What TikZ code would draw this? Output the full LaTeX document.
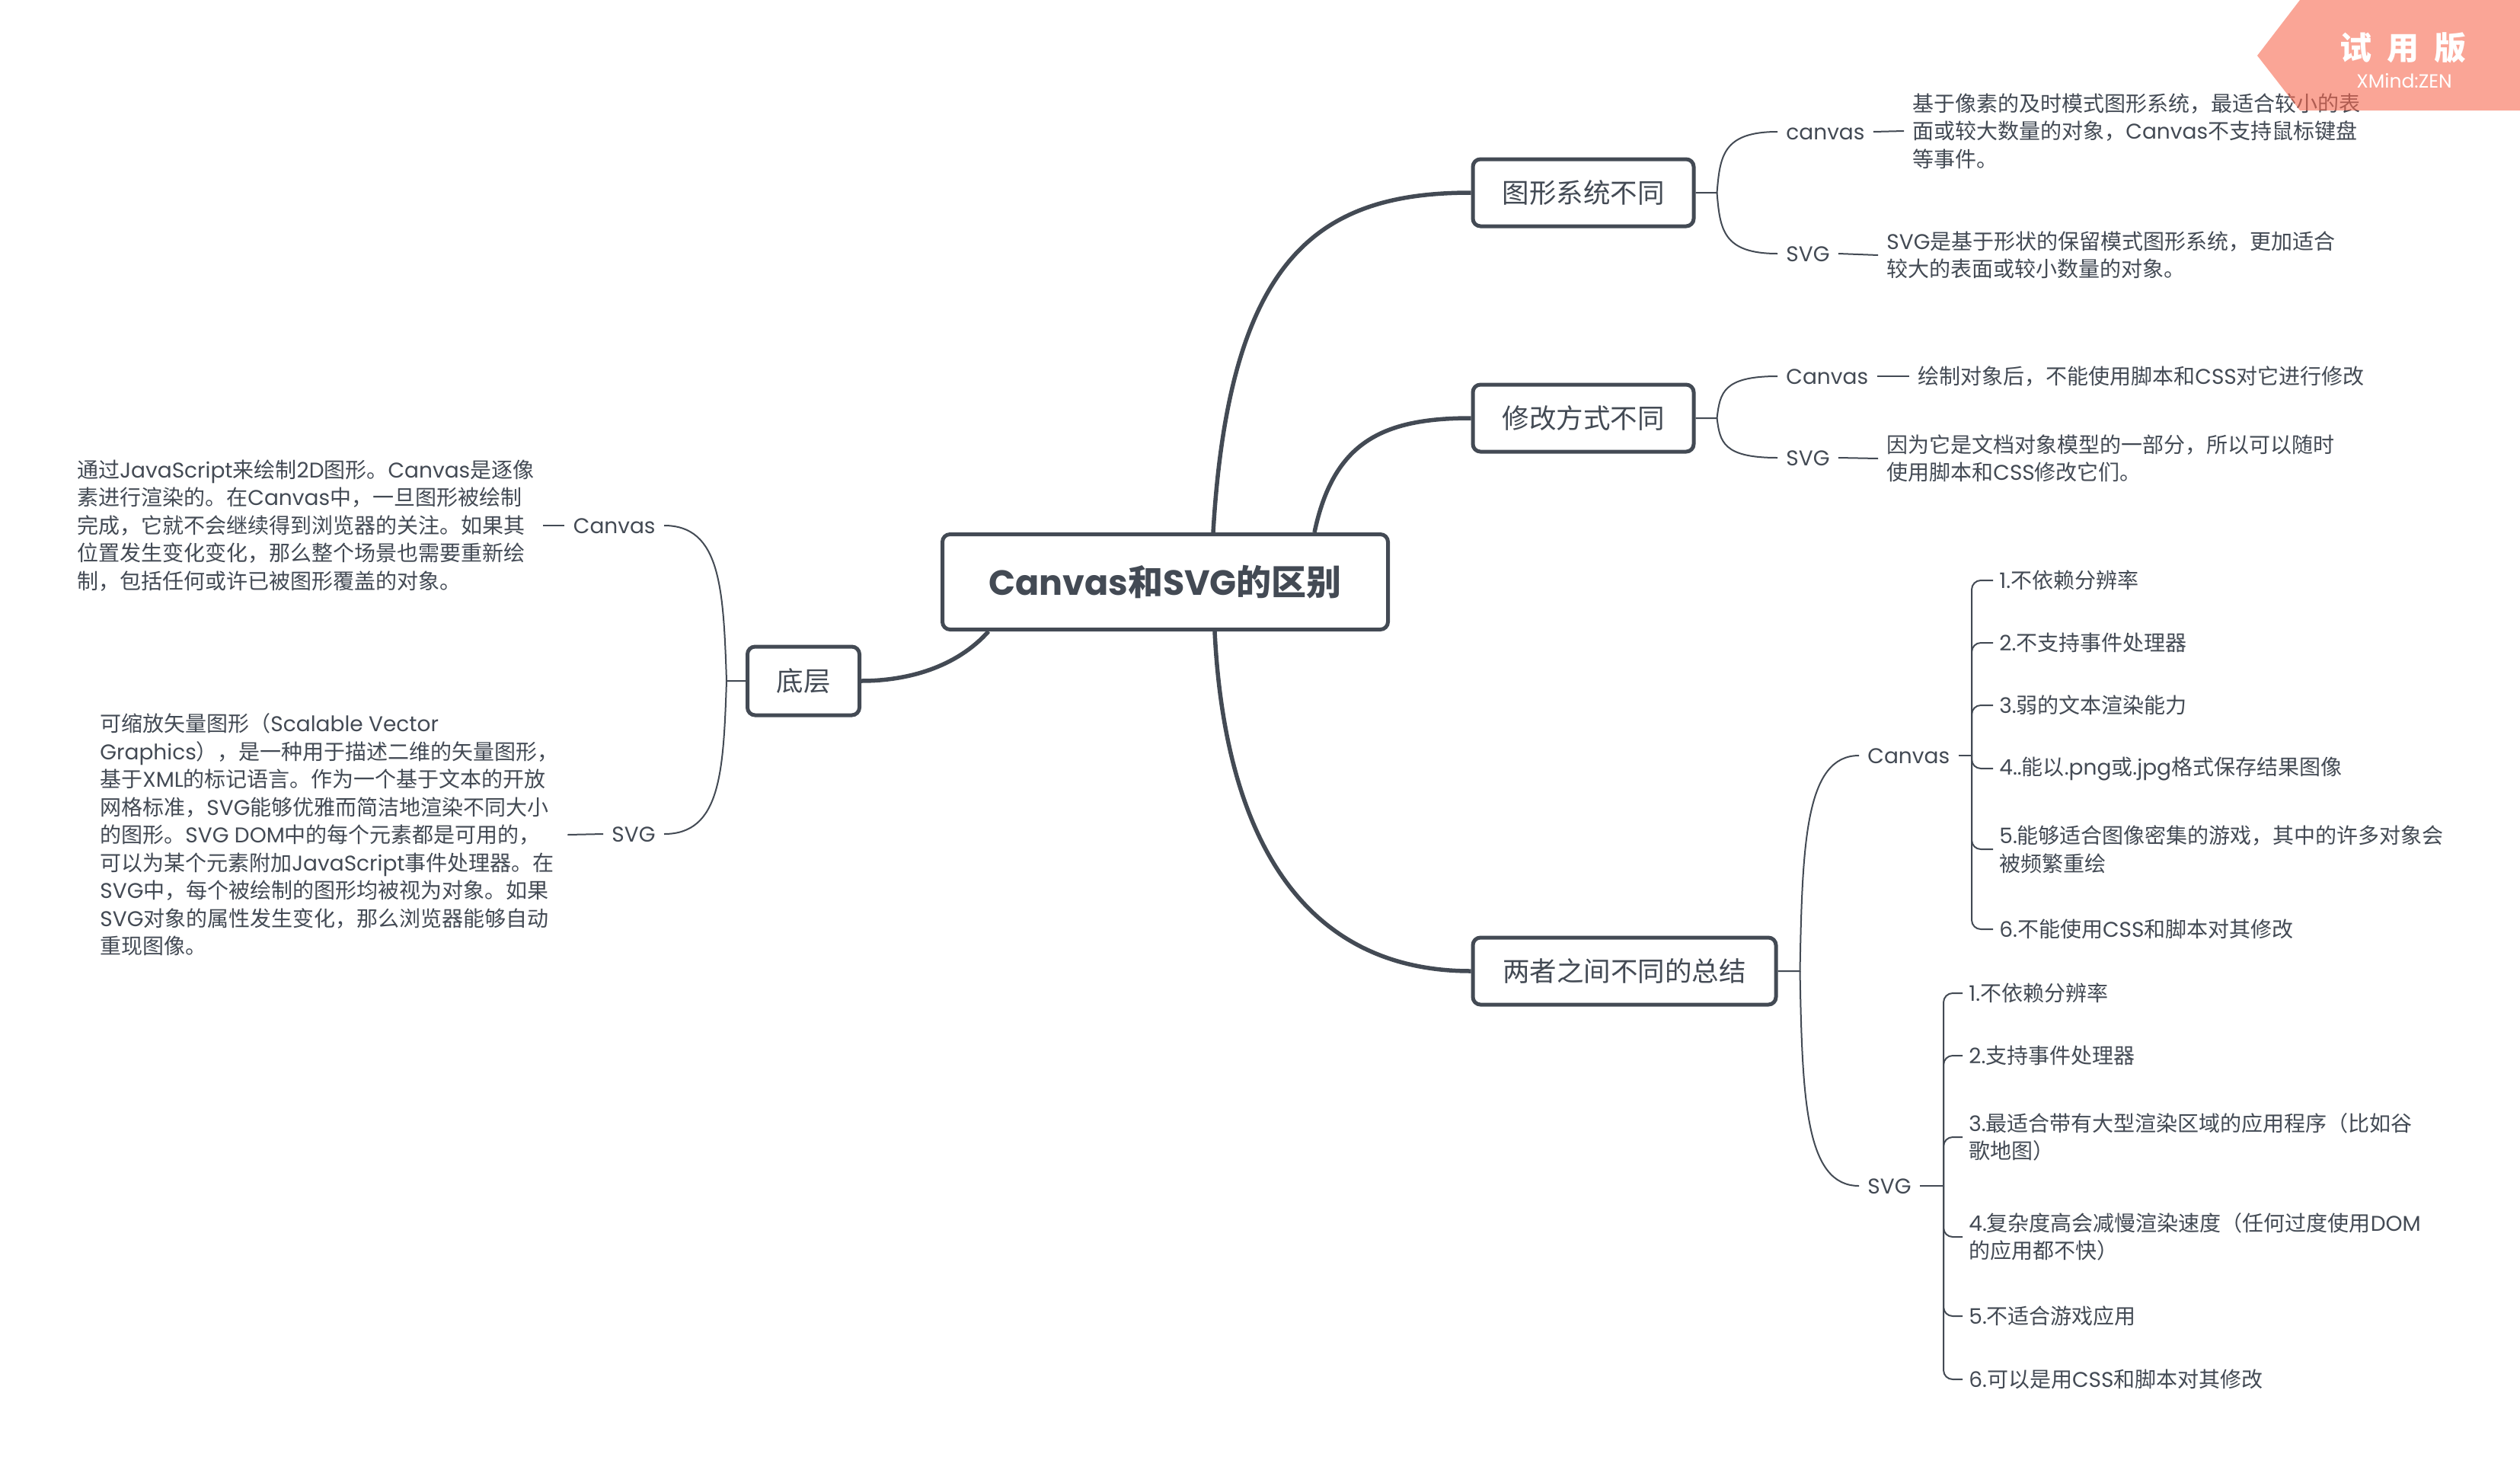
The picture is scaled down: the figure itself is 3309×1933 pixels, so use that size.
\documentclass[tikz,border=0pt]{standalone}
\usepackage{fontspec}
\setmainfont{Poppins}
\newfontfamily\latfont{Poppins}
\newfontfamily\cjkfont{Noto Sans CJK SC}

% Han characters and full-width punctuation are set in the CJK face,
% everything else in the Latin face
\XeTeXinterchartokenstate=1
\newXeTeXintercharclass\hanclass
\newcount\hanidx
\def\setclassrange#1#2{\hanidx=#1 \loop\XeTeXcharclass\hanidx=\hanclass\relax\ifnum\hanidx<#2 \advance\hanidx by 1 \repeat}
\setclassrange{"3000}{"303F}
\setclassrange{"4E00}{"9FFF}
\setclassrange{"FF00}{"FFEF}
\XeTeXinterchartoks 0 \hanclass = {\cjkfont}
\XeTeXinterchartoks 4095 \hanclass = {\cjkfont}
\XeTeXinterchartoks \hanclass 0 = {\latfont}
\XeTeXinterchartoks \hanclass 4095 = {\latfont}

\definecolor{ink}{HTML}{434A54}
\definecolor{wm}{HTML}{F86950}

\newcommand\txtsmall{\fontsize{14pt}{18.25pt}\selectfont}
\newcommand\txtmid{\fontsize{17.75pt}{22pt}\selectfont}
\newcommand\txtbig{\fontsize{23pt}{28pt}\selectfont\bfseries}

\begin{document}
\begin{tikzpicture}[x=0.5pt,y=-0.5pt,
  topic/.style={draw=ink, line width=2.5pt, rounded corners=5pt, fill=white,
    text=ink, inner sep=0pt, font=\txtmid},
  hub/.style={topic, font=\txtbig},
  lbl/.style={text=ink, inner xsep=5.5pt, inner ysep=0pt, text height=11pt,
    text depth=1pt, font=\txtsmall},
  note/.style={text=ink, inner xsep=5.5pt, inner ysep=0pt, align=left, font=\txtsmall},
  item/.style={text=ink, inner xsep=4pt, inner ysep=0pt, align=left, font=\txtsmall},
  trunk/.style={draw=ink, line width=2.75pt},
  twig/.style={draw=ink, line width=1pt},
  bracket/.style={twig, rounded corners=6pt}
]
\useasboundingbox (0,0) rectangle (3309,1933);
\fill[white] (0,0) rectangle (3309,1933);

% ---------- topics ----------
\node[hub, minimum width=292.5pt, minimum height=62.5pt] (hub) at (1530,764) {Canvas和SVG的区别};
\node[topic, minimum width=145pt, minimum height=44pt] (g1) at (2079,253) {图形系统不同};
\node[topic, minimum width=145pt, minimum height=44pt] (g2) at (2079,549) {修改方式不同};
\node[topic, minimum width=199pt, minimum height=44pt] (g3) at (2133,1275) {两者之间不同的总结};
\node[topic, minimum width=73.5pt, minimum height=45pt] (g0) at (1055,894) {底层};

% ---------- trunk connectors ----------
\draw[trunk] ([xshift=31.5pt]hub.north) .. controls +(21,-361) and +(-201,0) .. (g1.west);
\draw[trunk] ([xshift=98pt]hub.north) .. controls +(25,-119) and +(-116,0) .. (g2.west);
\draw[trunk] ([xshift=32.5pt]hub.south) .. controls +(13,268) and +(-222,0) .. (g3.west);
\draw[trunk] ([xshift=-116pt]hub.south) .. controls +(-42,47) and +(61,0) .. (g0.east);

% ---------- 图形系统不同 ----------
\coordinate (j1) at ([xshift=14pt]g1.east);
\node[lbl, anchor=west] (g1a) at (2334,173) {canvas};
\node[lbl, anchor=west] (g1b) at (2334,333) {SVG};
\node[note, anchor=west] (g1an) at (2500,172) {基于像素的及时模式图形系统，最适合较小的表\\面或较大数量的对象，Canvas不支持鼠标键盘\\等事件。};
\node[note, anchor=west] (g1bn) at (2466,335) {SVG是基于形状的保留模式图形系统，更加适合\\较大的表面或较小数量的对象。};
\draw[twig] (g1.east) -- (j1) .. controls +(4,-48) and +(-72,0) .. (g1a.west);
\draw[twig] (j1) .. controls +(4,48) and +(-72,0) .. (g1b.west);
\draw[twig] (g1a.east) -- (g1an.west);
\draw[twig] (g1b.east) -- (g1bn.west);

% ---------- 修改方式不同 ----------
\coordinate (j2) at ([xshift=14pt]g2.east);
\node[lbl, anchor=west] (g2a) at (2334,494) {Canvas};
\node[lbl, anchor=west] (g2b) at (2334,601) {SVG};
\node[note, anchor=west] (g2an) at (2507,494) {绘制对象后，不能使用脚本和CSS对它进行修改};
\node[note, anchor=west] (g2bn) at (2466,602) {因为它是文档对象模型的一部分，所以可以随时\\使用脚本和CSS修改它们。};
\draw[twig] (g2.east) -- (j2) .. controls +(4,-33) and +(-72,0) .. (g2a.west);
\draw[twig] (j2) .. controls +(4,31) and +(-72,0) .. (g2b.west);
\draw[twig] (g2a.east) -- (g2an.west);
\draw[twig] (g2b.east) -- (g2bn.west);

% ---------- 底层 ----------
\coordinate (j0) at ([xshift=-12.5pt]g0.west);
\node[lbl, anchor=east] (g0a) at (872,690) {Canvas};
\node[lbl, anchor=east] (g0b) at (872,1095) {SVG};
\node[note, anchor=west] (g0an) at (90,690) {通过JavaScript来绘制2D图形。Canvas是逐像\\素进行渲染的。在Canvas中，一旦图形被绘制\\完成，它就不会继续得到浏览器的关注。如果其\\位置发生变化变化，那么整个场景也需要重新绘\\制，包括任何或许已被图形覆盖的对象。};
\node[note, anchor=west] (g0bn) at (120,1096) {可缩放矢量图形（Scalable Vector\\Graphics），是一种用于描述二维的矢量图形，\\基于XML的标记语言。作为一个基于文本的开放\\网格标准，SVG能够优雅而简洁地渲染不同大小\\的图形。SVG DOM中的每个元素都是可用的，\\可以为某个元素附加JavaScript事件处理器。在\\SVG中，每个被绘制的图形均被视为对象。如果\\SVG对象的属性发生变化，那么浏览器能够自动\\重现图像。};
\draw[twig] (g0.west) -- (j0) .. controls +(-4,-122) and +(74,0) .. (g0a.east);
\draw[twig] (j0) .. controls +(-4,121) and +(74,0) .. (g0b.east);
\draw[twig] (g0a.west) -- (g0an.east);
\draw[twig] (g0b.west) -- (g0bn.east);

% ---------- 两者之间不同的总结 ----------
\coordinate (j3) at ([xshift=14.5pt]g3.east);
\node[lbl, anchor=west] (s1) at (2441,992) {Canvas};
\node[lbl, anchor=west] (s2) at (2441,1557) {SVG};
\draw[twig] (g3.east) -- (j3) .. controls +(3,-170) and +(-70,0) .. (s1.west);
\draw[twig] (j3) .. controls +(3,170) and +(-70,0) .. (s2.west);

\coordinate (b1) at (2589,992);
\node[item, anchor=west] (c1) at (2617,762) {1.不依赖分辨率};
\node[item, anchor=west] (c2) at (2617,844) {2.不支持事件处理器};
\node[item, anchor=west] (c3) at (2617,926) {3.弱的文本渲染能力};
\node[item, anchor=west] (c4) at (2617,1009) {4..能以.png或.jpg格式保存结果图像};
\node[item, anchor=west] (c5) at (2617,1115) {5.能够适合图像密集的游戏，其中的许多对象会\\被频繁重绘};
\node[item, anchor=west] (c6) at (2617,1220) {6.不能使用CSS和脚本对其修改};
\draw[twig] (s1.east) -- (b1);
\foreach \n in {c1,c2,c3,c4,c5,c6} \draw[bracket] (b1) |- (\n.west);

\coordinate (b2) at (2552,1557);
\node[item, anchor=west] (v1) at (2577,1304) {1.不依赖分辨率};
\node[item, anchor=west] (v2) at (2577,1386) {2.支持事件处理器};
\node[item, anchor=west] (v3) at (2577,1493) {3.最适合带有大型渲染区域的应用程序（比如谷\\歌地图）};
\node[item, anchor=west] (v4) at (2577,1624) {4.复杂度高会减慢渲染速度（任何过度使用DOM\\的应用都不快）};
\node[item, anchor=west] (v5) at (2577,1728) {5.不适合游戏应用};
\node[item, anchor=west] (v6) at (2577,1811) {6.可以是用CSS和脚本对其修改};
\draw[twig] (s2.east) -- (b2);
\foreach \n in {v1,v2,v3,v4,v5,v6} \draw[bracket] (b2) |- (\n.west);

% ---------- trial badge ----------
\fill[wm, fill opacity=0.6] (3020,0) -- (3309,0) -- (3309,145) -- (3020,145) -- (2964,73) -- cycle;
\node[text=white, font=\fontsize{21pt}{21pt}\selectfont\bfseries] (wm1) at (3155,63) {试\hspace{10pt}用\hspace{10pt}版};
\node[text=white, font=\fontsize{12.5pt}{13pt}\selectfont] (wm2) at (3157,106) {XMind:ZEN};
\end{tikzpicture}
\end{document}
